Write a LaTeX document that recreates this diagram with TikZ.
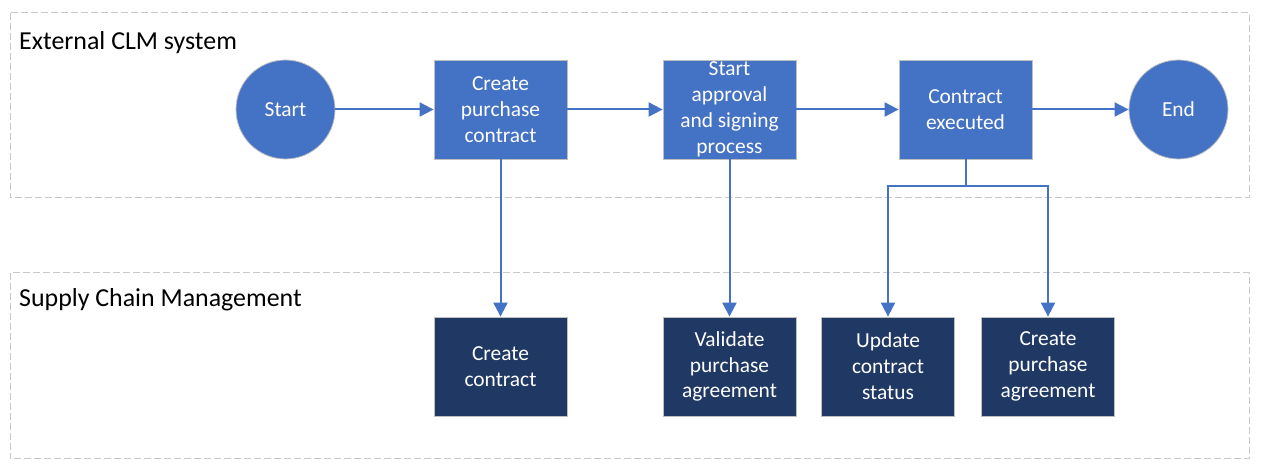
\documentclass[tikz,border=0pt]{standalone}
\usepackage{fontspec}
\setmainfont{Carlito}
\usetikzlibrary{arrows.meta}
\definecolor{clmblue}{HTML}{4472C4}
\definecolor{scmnavy}{HTML}{203864}
\definecolor{lanegray}{HTML}{C8C8C8}
\definecolor{edgegray}{HTML}{BFBFBF}
\tikzset{
  lane/.style={draw=lanegray,line width=1bp,dash pattern=on 7bp off 3bp},
  lanetitle/.style={anchor=west,inner sep=0pt,font=\fontsize{26}{31}\selectfont},
  terminal/.style={circle,fill=clmblue,draw=edgegray,line width=0.8bp,minimum size=99bp,
    inner sep=0pt,text=white,font=\fontsize{21.5}{26}\selectfont},
  clmstep/.style={rectangle,fill=clmblue,draw=edgegray,line width=0.8bp,minimum width=133bp,
    minimum height=99bp,inner sep=0pt,align=center,text=white,font=\fontsize{21.5}{26}\selectfont},
  scmstep/.style={clmstep,fill=scmnavy},
  flow/.style={draw=clmblue,line width=2bp,-{Triangle[length=14bp,width=14bp]}}
}
\begin{document}
\begin{tikzpicture}[x=1bp,y=-1bp]
\useasboundingbox (0,0) rectangle (1262,471);
% swim lanes
\draw[lane] (10,13) rectangle (1249,198);
\draw[lane] (10,273) rectangle (1249,459);
\node[lanetitle] (clmtitle) at (19,43) {External CLM system};
\node[lanetitle] (scmtitle) at (19,300) {Supply Chain Management};
% external CLM system
\node[terminal] (start) at (285.5,109.5) {Start};
\node[clmstep] (cpc) at (500.5,109.5) {Create\\purchase\\contract};
\node[clmstep] (appr) at (729.5,109.5) {Start\\approval\\and signing\\process};
\node[clmstep] (exec) at (965.5,109.5) {Contract\\executed};
\node[terminal] (end) at (1178.5,109.5) {End};
% supply chain management
\node[scmstep] (ccon) at (500.5,366.5) {Create\\contract};
\node[scmstep] (valid) at (729.5,366.5) {Validate\\purchase\\agreement};
\node[scmstep] (upd) at (888,366.5) {Update\\contract\\status};
\node[scmstep] (cpa) at (1048,366.5) {Create\\purchase\\agreement};
\coordinate (fork) at (965.5,186);
% connectors
\draw[flow] (start) -- (cpc);
\draw[flow] (cpc) -- (appr);
\draw[flow] (appr) -- (exec);
\draw[flow] (exec) -- (end);
\draw[flow] (cpc) -- (ccon);
\draw[flow] (appr) -- (valid);
\draw[draw=clmblue,line width=2bp] (exec) -- (fork);
\draw[flow] (fork) -| (upd);
\draw[flow] (fork) -| (cpa);
\end{tikzpicture}
\end{document}
